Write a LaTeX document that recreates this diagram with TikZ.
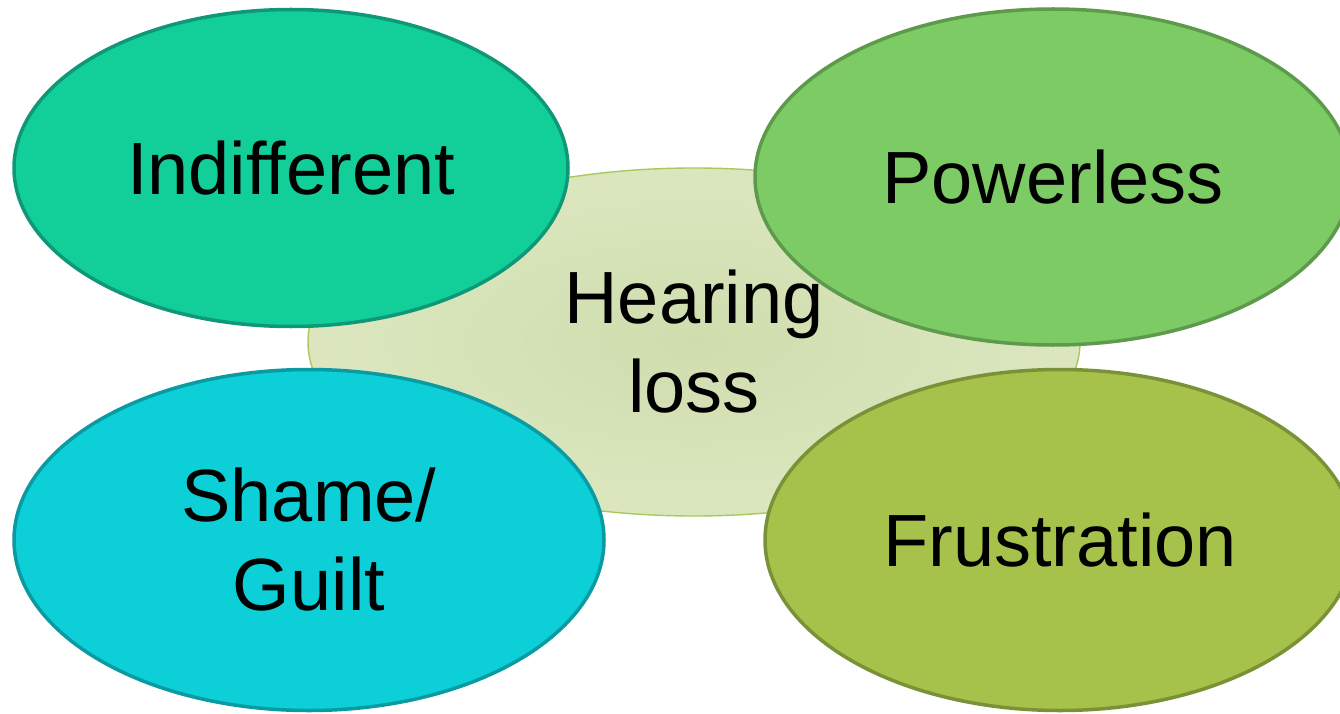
\documentclass[tikz,border=0pt]{standalone}
\usepackage{fontspec}
\setmainfont{Liberation Sans}
\usetikzlibrary{shapes.geometric}

\definecolor{hubin}{HTML}{CFDDAE}
\definecolor{hubout}{HTML}{E8F0D0}
\definecolor{hubline}{HTML}{A9C95C}
\definecolor{indfill}{HTML}{12CE99}
\definecolor{indline}{HTML}{0E9877}
\definecolor{powfill}{HTML}{7DCB64}
\definecolor{powline}{HTML}{5E9A4B}
\definecolor{shafill}{HTML}{0CCFD8}
\definecolor{shaline}{HTML}{0A9AA1}
\definecolor{frufill}{HTML}{A7C24A}
\definecolor{fruline}{HTML}{7A9237}

% soft glow from the middle of the hub out to its rim
\pgfdeclareradialshading{hubglow}{\pgfpoint{0bp}{0bp}}{%
  color(0bp)=(hubin); color(50bp)=(hubout); color(72bp)=(hubout)}

\begin{document}
\begin{tikzpicture}[x=1pt,y=-1pt,
  bigtext/.style={align=center, font=\fontsize{74}{89}\selectfont, text=black},
  bubble/.style={ellipse, inner sep=0pt, line width=3.5pt, bigtext},
  hub/.style={ellipse, inner sep=0pt, line width=1.4pt, draw=hubline,
    shading=hubglow, bigtext},
]
\useasboundingbox[fill=white] (0,0) rectangle (1340,714);

% central theme
\node[hub, minimum width=772pt, minimum height=348pt] (hub) at (694,342)
  {Hearing\\loss};

% surrounding feelings
\node[bubble, fill=indfill, draw=indline,
  minimum width=554pt, minimum height=317pt] (indiff) at (291,168) {Indifferent};
\node[bubble, fill=powfill, draw=powline,
  minimum width=596pt, minimum height=336pt] (power) at (1053,177) {Powerless};
\node[bubble, fill=shafill, draw=shaline,
  minimum width=590pt, minimum height=341pt] (shame) at (309,540) {Shame/\\Guilt};
\node[bubble, fill=frufill, draw=fruline,
  minimum width=590pt, minimum height=341pt] (frust) at (1060,540) {Frustration};
\end{tikzpicture}
\end{document}
